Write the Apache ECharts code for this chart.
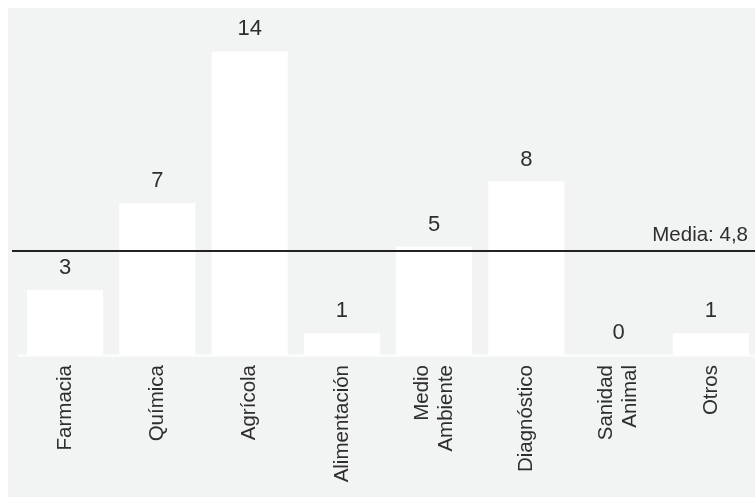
<!DOCTYPE html>
<html>
<head>
<meta charset="utf-8">
<script src="https://cdn.jsdelivr.net/npm/echarts@6/dist/echarts.min.js"></script>
<style>
  html, body { margin: 0; padding: 0; background: #ffffff; }
  #chart { width: 755px; height: 498px; }
</style>
</head>
<body>
<div id="chart"></div>
<script>
// Sectores de aplicación y número de proyectos
const categories = ['Farmacia', 'Química', 'Agrícola', 'Alimentación', 'Medio\nAmbiente', 'Diagnóstico', 'Sanidad\nAnimal', 'Otros'];
const values = [3, 7, 14, 1, 5, 8, 0, 1];
const mean = 4.8;
const meanLabel = 'Media: 4,8';

const FONT = "'Liberation Sans', Arial, sans-serif";
const PANEL = '#f2f3f3';
const TEXT = '#2e2e2e';

const chart = echarts.init(document.getElementById('chart'), null, { renderer: 'canvas' });

const yScale = { min: 0, max: 16 };

chart.setOption({
  backgroundColor: PANEL,
  animation: false,
  graphic: [
    // white page margin around the grey panel
    { type: 'rect', left: 0, top: 0, shape: { width: 755, height: 8 }, style: { fill: '#ffffff' }, z: 100 },
    { type: 'rect', left: 0, top: 0, shape: { width: 8, height: 498 }, style: { fill: '#ffffff' }, z: 100 },
    { type: 'rect', left: 0, top: 497, shape: { width: 755, height: 1 }, style: { fill: '#ffffff' }, z: 100 }
  ],
  grid: [
    { left: 19, width: 738, top: 8, bottom: 143, containLabel: false, outerBoundsMode: 'none' },
    { left: 12, right: 0, top: 8, bottom: 143, containLabel: false, outerBoundsMode: 'none' }
  ],
  xAxis: [
    {
      type: 'category',
      gridIndex: 0,
      data: categories,
      axisLine: { show: true, lineStyle: { color: '#fafbfb', width: 3 } },
      axisTick: { show: false },
      axisLabel: {
        rotate: 90,
        margin: 10,
        interval: 0,
        color: TEXT,
        fontFamily: FONT,
        fontSize: 20.5,
        lineHeight: 24
      },
      splitLine: { show: false }
    },
    { type: 'value', gridIndex: 1, min: 0, max: 1, show: false }
  ],
  yAxis: [
    { type: 'value', gridIndex: 0, min: yScale.min, max: yScale.max, show: false, splitLine: { show: false } },
    { type: 'value', gridIndex: 1, min: yScale.min, max: yScale.max, show: false, splitLine: { show: false } }
  ],
  series: [
    {
      type: 'bar',
      xAxisIndex: 0,
      yAxisIndex: 0,
      data: values,
      barWidth: 76,
      itemStyle: { color: '#ffffff' },
      label: {
        show: true,
        position: 'top',
        distance: 11,
        color: TEXT,
        fontFamily: FONT,
        fontSize: 22
      }
    },
    {
      // average reference line across the full panel width
      type: 'line',
      xAxisIndex: 1,
      yAxisIndex: 1,
      data: [],
      markLine: {
        silent: true,
        symbol: 'none',
        lineStyle: { color: '#222222', width: 2, type: 'solid' },
        label: {
          show: true,
          position: 'insideEndTop',
          distance: [7, 5],
          formatter: meanLabel,
          color: TEXT,
          fontFamily: FONT,
          fontSize: 20.5
        },
        data: [{ yAxis: mean }]
      }
    }
  ]
});
</script>
</body>
</html>
